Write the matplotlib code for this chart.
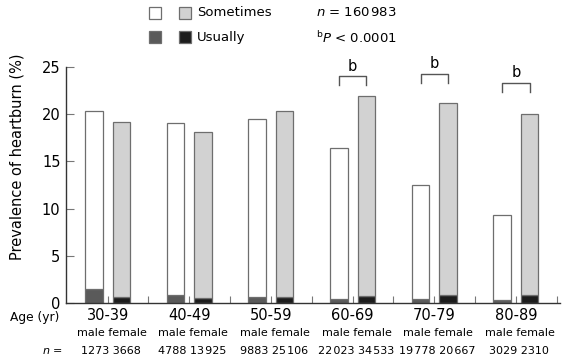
import matplotlib
matplotlib.use("Agg")
import matplotlib.pyplot as plt
import numpy as np
from matplotlib.patches import Rectangle

AGE_GROUPS = ["30-39", "40-49", "50-59", "60-69", "70-79", "80-89"]
MALE_USUALLY = [1.5, 0.85, 0.6, 0.45, 0.45, 0.3]
MALE_SOMETIMES = [18.8, 18.25, 18.85, 15.95, 12.05, 9.0]
FEMALE_USUALLY = [0.65, 0.5, 0.65, 0.7, 0.9, 0.9]
FEMALE_SOMETIMES = [18.5, 17.6, 19.65, 21.2, 20.25, 19.1]
N_MALE = ["1273", "4788", "9883", "22\u200a023", "19\u200a778", "3029"]
N_FEMALE = ["3668", "13\u200a925", "25\u200a106", "34\u200a533", "20\u200a667", "2310"]
SIG_GROUPS = [3, 4, 5]
SIG_HEIGHTS = [24.0, 24.3, 23.3]

EDGE = "#6e6e6e"
C_MALE_SOME = "white"
C_MALE_USU = "#5a5a5a"
C_FEM_SOME = "#d2d2d2"
C_FEM_USU = "#1c1c1c"

fig = plt.figure(figsize=(5.66, 3.63), dpi=100)
ax = fig.add_axes([66 / 566, 60 / 363, 494 / 566, 236 / 363])

x = np.arange(len(AGE_GROUPS))
w = 0.215
off = 0.168

ax.bar(x - off, MALE_USUALLY, w, color=C_MALE_USU, edgecolor=EDGE, linewidth=0.9)
ax.bar(x - off, MALE_SOMETIMES, w, bottom=MALE_USUALLY, color=C_MALE_SOME, edgecolor=EDGE, linewidth=0.9)
ax.bar(x + off, FEMALE_USUALLY, w, color=C_FEM_USU, edgecolor=EDGE, linewidth=0.9)
ax.bar(x + off, FEMALE_SOMETIMES, w, bottom=FEMALE_USUALLY, color=C_FEM_SOME, edgecolor=EDGE, linewidth=0.9)

# significance brackets
for g, h in zip(SIG_GROUPS, SIG_HEIGHTS):
    x0, x1 = g - off, g + off
    ax.plot([x0, x0, x1, x1], [h - 0.95, h, h, h - 0.95], color="#555555", lw=1, clip_on=False)
    ax.text(g, h + 0.3, "b", ha="center", va="bottom", fontsize=10.5, clip_on=False)

ax.set_xlim(-0.51, 5.54)
ax.set_ylim(0, 25)
ax.set_yticks([0, 5, 10, 15, 20, 25])
ax.set_xticks(np.arange(0, 5.6, 0.5))
ax.set_xticklabels([])
ax.tick_params(axis="y", direction="in", length=6, color="#777777", labelsize=10.5, pad=4)
ax.tick_params(axis="x", direction="in", length=5, color="#777777")
for side in ["top", "right"]:
    ax.spines[side].set_visible(False)
for side in ["left", "bottom"]:
    ax.spines[side].set_color("#333333")
    ax.spines[side].set_linewidth(1)

ax.set_ylabel("Prevalence of heartburn (%)", fontsize=10.5)
ax.yaxis.set_label_coords(-0.083, 0.62)

# labels under the axis
tr = ax.get_xaxis_transform()
for i, age in enumerate(AGE_GROUPS):
    ax.text(i, -0.053, age, transform=tr, ha="center", va="center", fontsize=10.5)
    ax.text(i + 0.05, -0.127, "male female", transform=tr, ha="center", va="center", fontsize=8)
    ax.text(i + 0.04, -0.203, N_MALE[i] + " " + N_FEMALE[i], transform=tr, ha="center", va="center", fontsize=8)
fig.text(59 / 566, 1 - 317 / 363, "Age (yr)", ha="right", va="center", fontsize=8.8)
fig.text(63 / 566, 1 - 351 / 363, "$n$ =", ha="right", va="center", fontsize=8)

# legend at top
sq = 12
for (px, py, col) in [(149, 7, C_MALE_SOME), (179, 7, C_FEM_SOME),
                      (149, 31, C_MALE_USU), (179, 31, C_FEM_USU)]:
    fig.patches.append(Rectangle((px / 566, 1 - (py + sq) / 363), sq / 566, sq / 363,
                                 transform=fig.transFigure, facecolor=col,
                                 edgecolor=EDGE, linewidth=0.9))
fig.text(197 / 566, 1 - 13 / 363, "Sometimes", ha="left", va="center", fontsize=9.5)
fig.text(197 / 566, 1 - 38 / 363, "Usually", ha="left", va="center", fontsize=9.5)
fig.text(316 / 566, 1 - 13 / 363, "$n$ = 160\u200a983", ha="left", va="center", fontsize=9.5)
fig.text(316 / 566, 1 - 38 / 363, "$^{\\mathrm{b}}P$ < 0.0001", ha="left", va="center", fontsize=9.5)

fig.savefig("out.png", dpi=100)
